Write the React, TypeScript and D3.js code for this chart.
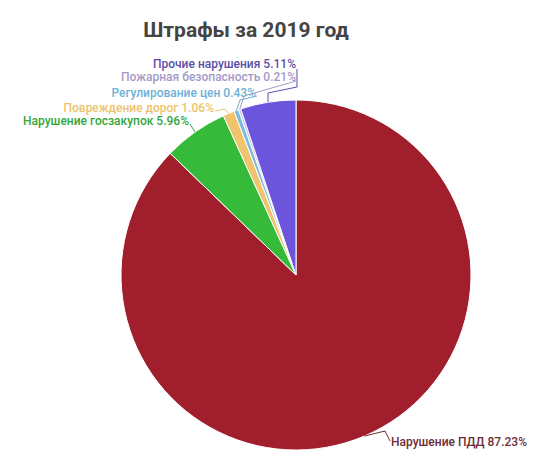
import React from "react";
import * as d3 from "d3";

const categories = [
  "Нарушение ПДД",
  "Нарушение госзакупок",
  "Повреждение дорог",
  "Регулирование цен",
  "Пожарная безопасность",
  "Прочие нарушения",
];
const shares = [87.23, 5.96, 1.06, 0.43, 0.21, 5.11];
const sliceColors = ["#a11f2c", "#35ba3a", "#efc46c", "#7fbade", "#c2b9ea", "#6b55dd"];
const labelColors = ["#6e2c38", "#33a63a", "#edc36d", "#6db2d6", "#a49ac8", "#5b4ea8"];

// label placement: anchor, x, y and the connector bends between label and slice
const labelLayout: { anchor: string; x: number; y: number; bends: [number, number][] }[] = [
  { anchor: "start", x: 391, y: 442, bends: [[390, 441], [385, 431]] },
  { anchor: "end", x: 189, y: 121, bends: [[190, 124]] },
  { anchor: "end", x: 214, y: 108, bends: [[215, 111], [225, 109]] },
  { anchor: "end", x: 256, y: 93, bends: [[257, 96], [240, 100]] },
  { anchor: "end", x: 296, y: 77, bends: [[296, 81], [244, 96]] },
  { anchor: "end", x: 296, y: 64, bends: [[297, 69], [297, 87], [268, 93]] },
];

const W = 550;
const H = 471;
const cx = 296;
const cy = 275;
const R = 175;

export default function App() {
  const pie = d3
    .pie<number>()
    .sort(null)
    .value((d) => d);
  const arcs = pie(shares);
  const arc = d3.arc<d3.PieArcDatum<number>>().innerRadius(0).outerRadius(R);

  return (
    <svg
      width={W}
      height={H}
      style={{ position: "absolute", left: 0, top: 0, background: "#fff" }}
      fontFamily="Roboto, sans-serif"
    >
      <text
        x={246}
        y={37}
        textAnchor="middle"
        fontSize={21}
        fontWeight={700}
        fill="#444"
      >
        Штрафы за 2019 год
      </text>
      <g transform={`translate(${cx},${cy})`}>
        {arcs.map((a, i) => (
          <path
            key={categories[i]}
            d={arc(a) || ""}
            fill={sliceColors[i]}
            stroke="#fff"
            strokeWidth={1}
          />
        ))}
      </g>
      {arcs.map((a, i) => {
        const lab = labelLayout[i];
        const mid = (a.startAngle + a.endAngle) / 2;
        const px = cx + Math.sin(mid) * R;
        const py = cy - Math.cos(mid) * R;
        const line = d3.line()([...lab.bends, [px, py]]);
        return (
          <g key={"l" + i}>
            <path d={line || ""} fill="none" stroke={labelColors[i]} strokeWidth={1} />
            <text
              x={lab.x}
              y={lab.y}
              dy="0.35em"
              textAnchor={lab.anchor}
              fontSize={12}
              fontWeight={500}
              fill={labelColors[i]}
            >
              {categories[i]} {shares[i].toFixed(2)}%
            </text>
          </g>
        );
      })}
    </svg>
  );
}
